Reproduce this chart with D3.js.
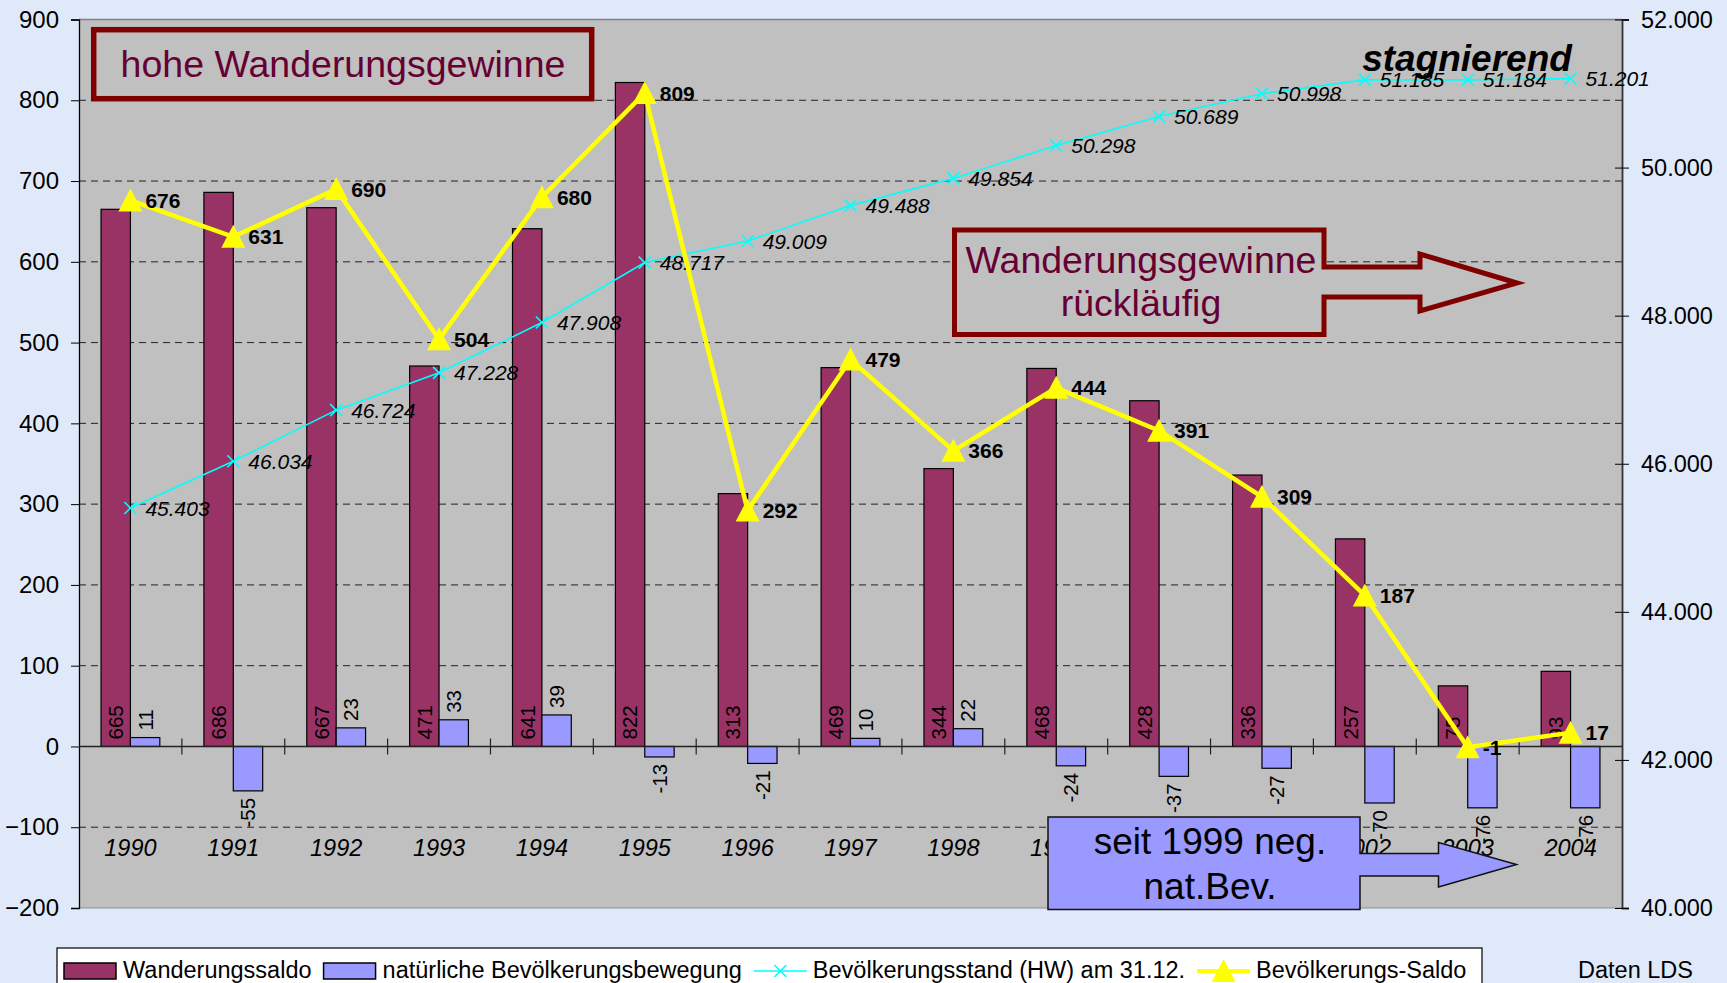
<!DOCTYPE html>
<html>
<head>
<meta charset="utf-8">
<script src="https://cdn.jsdelivr.net/npm/d3@7"></script>
<style>
  body { margin: 0; background: #e0e9fa; }
  svg { display: block; font-family: "Liberation Sans", Arial, sans-serif; }
</style>
</head>
<body>
<div id="chart"></div>
<script>
// values
var years = ["1990", "1991", "1992", "1993", "1994", "1995", "1996", "1997", "1998", "1999", "2000", "2001", "2002", "2003", "2004"]
var wanderungssaldo = [665, 686, 667, 471, 641, 822, 313, 469, 344, 468, 428, 336, 257, 75, 93]
var natuerlich = [11, -55, 23, 33, 39, -13, -21, 10, 22, -24, -37, -27, -70, -76, -76]
var bevStand = [45403, 46034, 46724, 47228, 47908, 48717, 49009, 49488, 49854, 50298, 50689, 50998, 51185, 51184, 51201]
var bevSaldo = [676, 631, 690, 504, 680, 809, 292, 479, 366, 444, 391, 309, 187, -1, 17]
var leftTicks = [-200, -100, 0, 100, 200, 300, 400, 500, 600, 700, 800, 900]
var rightTicks = [40000, 42000, 44000, 46000, 48000, 50000, 52000]
var legendNames = ["Wanderungssaldo", "natürliche Bevölkerungsbewegung", "Bevölkerungsstand (HW) am 31.12.", "Bevölkerungs-Saldo"]

var width = 1727
    height = 983
// plot area edges (note: "top" is reserved on window, so pTop etc.)
var pLeft = 79, pRight = 1622, pTop = 19.5, pBottom = 908

var de = d3.formatLocale({decimal: ",", thousands: ".", grouping: [3], currency: ["", "€"]})
var fmt = de.format(",d")

var svg = d3.select("#chart").append("svg")
  .attr("width", width)
  .attr("height", height)

var x = d3.scaleBand().domain(years).range([pLeft, pRight]).padding(0)
var bw = x.bandwidth()
// Excel style: gap width 150% -> each bar is bw/3.5
var xSub = d3.scaleBand().domain(["w", "n"]).range([0.75 * bw / 3.5, 2.75 * bw / 3.5])
var yL = d3.scaleLinear().domain([-200, 900]).range([pBottom, pTop])
var yR = d3.scaleLinear().domain([40000, 52000]).range([pBottom, pTop])

// plot area
svg.append("rect")
  .attr("x", pLeft).attr("y", pTop)
  .attr("width", pRight - pLeft).attr("height", pBottom - pTop)
  .attr("fill", "#c0c0c0")
svg.append("line")
  .attr("x1", pLeft).attr("x2", pRight).attr("y1", pTop).attr("y2", pTop)
  .attr("stroke", "#808080").attr("stroke-width", 1.5)
svg.append("line")
  .attr("x1", pLeft).attr("x2", pRight).attr("y1", pBottom).attr("y2", pBottom)
  .attr("stroke", "#909090").attr("stroke-width", 1)

// gridlines
svg.selectAll(".grid")
  .data(leftTicks.filter(function(d) { return d != 0 && d != -200 && d != 900 }))
  .enter().append("line")
  .attr("x1", pLeft).attr("x2", pRight)
  .attr("y1", function(d) { return yL(d) }).attr("y2", function(d) { return yL(d) })
  .attr("stroke", "#222").attr("stroke-width", 1)
  .attr("stroke-dasharray", "7,5")

// left axis
var axL = svg.append("g").attr("transform", "translate(" + pLeft + ",0)")
  .call(d3.axisLeft(yL).tickValues(leftTicks).tickSize(8).tickPadding(12).tickFormat(d3.format("d")))
axL.select(".domain").attr("stroke", "#000").attr("stroke-width", 1.3)
axL.selectAll(".tick line").attr("stroke", "#000")
axL.selectAll("text").style("font-size", "24px").attr("fill", "#000")
  .style("font-family", "'Liberation Sans', Arial, sans-serif")

// right axis
var axR = svg.append("g").attr("transform", "translate(" + pRight + ",0)")
  .call(d3.axisRight(yR).tickValues(rightTicks).tickSize(7).tickPadding(12).tickFormat(fmt))
axR.select(".domain").attr("stroke", "#333").attr("stroke-width", 1.8)
axR.selectAll(".tick line").attr("stroke", "#000").attr("x1", -7)
axR.selectAll("text").style("font-size", "23.5px").attr("fill", "#000")
  .style("font-family", "'Liberation Sans', Arial, sans-serif")

// bars
var g = svg.selectAll(".year").data(years).enter().append("g")
  .attr("transform", function(d) { return "translate(" + x(d) + ",0)" })

g.append("rect")
  .attr("x", xSub("w")).attr("width", xSub.bandwidth())
  .attr("y", function(d, i) { return yL(Math.max(0, wanderungssaldo[i])) })
  .attr("height", function(d, i) { return Math.abs(yL(wanderungssaldo[i]) - yL(0)) })
  .attr("fill", "#993366").attr("stroke", "#000").attr("stroke-width", 1.2)
g.append("rect")
  .attr("x", xSub("n")).attr("width", xSub.bandwidth())
  .attr("y", function(d, i) { return yL(Math.max(0, natuerlich[i])) })
  .attr("height", function(d, i) { return Math.abs(yL(natuerlich[i]) - yL(0)) })
  .attr("fill", "#9999ff").attr("stroke", "#000").attr("stroke-width", 1.2)

// category axis (at 0) with crossing ticks
svg.append("line")
  .attr("x1", pLeft).attr("x2", pRight).attr("y1", yL(0)).attr("y2", yL(0))
  .attr("stroke", "#222").attr("stroke-width", 1.4)
svg.selectAll(".ctick").data(years.slice(1)).enter().append("line")
  .attr("x1", function(d) { return x(d) }).attr("x2", function(d) { return x(d) })
  .attr("y1", yL(0) - 8).attr("y2", yL(0) + 8)
  .attr("stroke", "#222").attr("stroke-width", 1.2)

// year labels
svg.selectAll(".yr").data(years).enter().append("text")
  .attr("x", function(d) { return x(d) + bw / 2 }).attr("y", 856)
  .attr("text-anchor", "middle")
  .style("font-size", "23.5px").style("font-style", "italic")
  .text(function(d) { return d })

// bar labels (rotated)
g.append("text")
  .attr("transform", function(d, i) {
    return "translate(" + (xSub("w") + xSub.bandwidth() / 2) + "," + (yL(0) - 7) + ") rotate(-90)" })
  .attr("dy", "0.36em")
  .style("font-size", "20.5px")
  .text(function(d, i) { return wanderungssaldo[i] })
g.append("text")
  .attr("transform", function(d, i) {
    var v = natuerlich[i]
    var yy = v >= 0 ? yL(v) - 7 : yL(v) + 7
    return "translate(" + (xSub("n") + xSub.bandwidth() / 2) + "," + yy + ") rotate(-90)" })
  .attr("dy", "0.36em")
  .attr("text-anchor", function(d, i) { return natuerlich[i] >= 0 ? "start" : "end" })
  .style("font-size", "20.5px")
  .text(function(d, i) { return natuerlich[i] })

// Bevölkerungsstand line (right axis)
var cx = function(d, i) { return x(years[i]) + bw / 2 }
svg.append("path")
  .datum(bevStand)
  .attr("d", d3.line().x(cx).y(function(d) { return yR(d) }))
  .attr("fill", "none").attr("stroke", "#00ffff").attr("stroke-width", 1.6)
svg.selectAll(".xm").data(bevStand).enter().append("path")
  .attr("transform", function(d, i) { return "translate(" + cx(d, i) + "," + yR(d) + ")" })
  .attr("d", "M-6,-6L6,6M-6,6L6,-6")
  .attr("stroke", "#00ffff").attr("stroke-width", 1.6)
svg.selectAll(".sl").data(bevStand).enter().append("text")
  .attr("x", function(d, i) { return cx(d, i) + 15 }).attr("y", function(d) { return yR(d) })
  .attr("dy", "0.36em")
  .style("font-size", "21px").style("font-style", "italic")
  .text(function(d) { return fmt(d) })

// Bevölkerungs-Saldo line (left axis)
svg.append("path")
  .datum(bevSaldo)
  .attr("d", d3.line().x(cx).y(function(d) { return yL(d) }))
  .attr("fill", "none").attr("stroke", "#ffff00").attr("stroke-width", 4.5)
  .attr("stroke-linejoin", "miter")
svg.selectAll(".tri").data(bevSaldo).enter().append("path")
  .attr("transform", function(d, i) { return "translate(" + cx(d, i) + "," + yL(d) + ")" })
  .attr("d", "M0,-12L12,11L-12,11Z")
  .attr("fill", "#ffff00")
svg.selectAll(".bl").data(bevSaldo).enter().append("text")
  .attr("x", function(d, i) { return cx(d, i) + 15 }).attr("y", function(d) { return yL(d) })
  .attr("dy", "0.36em")
  .style("font-size", "21px").style("font-weight", "bold")
  .text(function(d) { return d })

// annotations
svg.append("rect")
  .attr("x", 93.7).attr("y", 29.7).attr("width", 498).attr("height", 69)
  .attr("fill", "#c0c0c0").attr("stroke", "#800000").attr("stroke-width", 5.5)
svg.append("text")
  .attr("x", 343).attr("y", 77).attr("text-anchor", "middle")
  .style("font-size", "37.5px").attr("fill", "#660033")
  .text("hohe Wanderungsgewinne")

svg.append("text")
  .attr("x", 1467).attr("y", 71).attr("text-anchor", "middle")
  .style("font-size", "37px").style("font-weight", "bold").style("font-style", "italic")
  .text("stagnierend")

svg.append("path")
  .attr("d", "M954.5,230H1324V267H1420V254L1517,283L1420,311V297H1324V334.5H954.5Z")
  .attr("fill", "#c0c0c0").attr("stroke", "#800000").attr("stroke-width", 5)
svg.append("text")
  .attr("x", 1141).attr("y", 273).attr("text-anchor", "middle")
  .style("font-size", "37.5px").attr("fill", "#660033")
  .text("Wanderungsgewinne")
svg.append("text")
  .attr("x", 1141).attr("y", 316).attr("text-anchor", "middle")
  .style("font-size", "37.5px").attr("fill", "#660033")
  .text("rückläufig")

svg.append("path")
  .attr("d", "M1048,817H1360V853.5H1438.5V842.5L1516.5,864.5L1438.5,887V876H1360V909.5H1048Z")
  .attr("fill", "#9999ff").attr("stroke", "#111").attr("stroke-width", 1.5)
svg.append("text")
  .attr("x", 1210).attr("y", 854).attr("text-anchor", "middle")
  .style("font-size", "37px")
  .text("seit 1999 neg.")
svg.append("text")
  .attr("x", 1210).attr("y", 899).attr("text-anchor", "middle")
  .style("font-size", "37px")
  .text("nat.Bev.")

// legend
svg.append("rect")
  .attr("x", 57).attr("y", 948).attr("width", 1425).attr("height", 50)
  .attr("fill", "#fff").attr("stroke", "#000").attr("stroke-width", 1.2)
var lx = 64, ly = 971
legendNames.forEach(function(name, i) {
  if (i == 0 || i == 1) {
    svg.append("rect").attr("x", lx).attr("y", ly - 8).attr("width", 52).attr("height", 16)
      .attr("fill", i == 0 ? "#993366" : "#9999ff").attr("stroke", "#000").attr("stroke-width", 1.5)
  } else if (i == 2) {
    svg.append("line").attr("x1", lx).attr("x2", lx + 53).attr("y1", ly).attr("y2", ly)
      .attr("stroke", "#00ffff").attr("stroke-width", 1.6)
    svg.append("path").attr("transform", "translate(" + (lx + 26.5) + "," + ly + ")")
      .attr("d", "M-6,-6L6,6M-6,6L6,-6").attr("stroke", "#00ffff").attr("stroke-width", 1.6)
  } else {
    svg.append("line").attr("x1", lx).attr("x2", lx + 53).attr("y1", ly).attr("y2", ly)
      .attr("stroke", "#ffff00").attr("stroke-width", 4)
    svg.append("path").attr("transform", "translate(" + (lx + 26.5) + "," + ly + ")")
      .attr("d", "M0,-12L12,11L-12,11Z").attr("fill", "#ffff00")
  }
  var t = svg.append("text").attr("x", lx + 59).attr("y", 978)
    .style("font-size", "23.5px").text(name)
  lx = lx + 59 + t.node().getComputedTextLength() + 12
})

svg.append("text")
  .attr("x", 1693).attr("y", 978).attr("text-anchor", "end")
  .style("font-size", "23.5px")
  .text("Daten LDS")
</script>
</body>
</html>
